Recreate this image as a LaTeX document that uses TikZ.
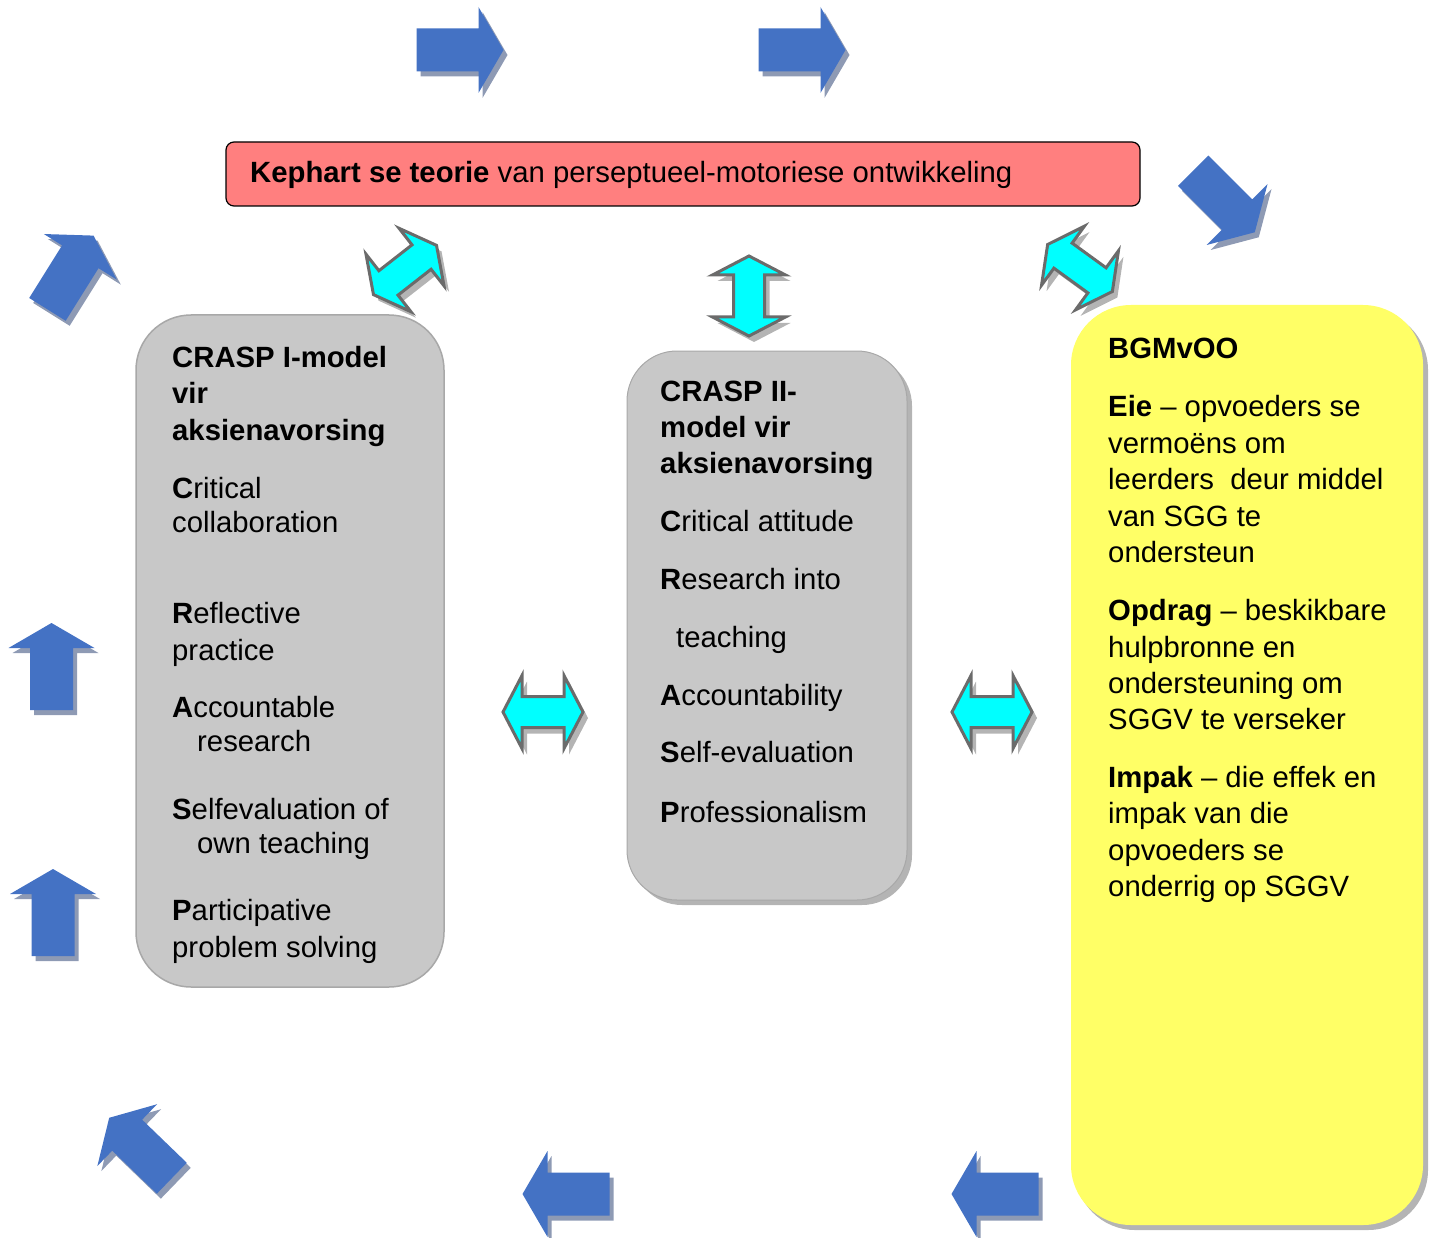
\documentclass[tikz,border=0pt]{standalone}
\usepackage{fontspec}
\setmainfont{Liberation Sans}
\definecolor{arrowblue}{HTML}{4472C4}
\definecolor{blueshade}{HTML}{8E9AB4}
\definecolor{cyanfill}{HTML}{00FFFF}
\definecolor{cyanedge}{HTML}{6B6B6B}
\definecolor{greyshade}{HTML}{B4B4B4}
\definecolor{titlered}{HTML}{FF7F7F}
\definecolor{boxgrey}{HTML}{C8C8C8}
\definecolor{boxedge}{HTML}{A8A8A8}
\definecolor{boxyellow}{HTML}{FFFF66}
\begin{document}
\begin{tikzpicture}[x=1pt,y=-1pt,
  line join=miter,
  txt/.style={anchor=base west, inner sep=0pt, font=\fontsize{29.3}{36}\selectfont},
  bluearrow/.pic={\fill[arrowblue] (-43.5,-21.5) -- (18.5,-21.5) -- (18.5,-43) -- (43.5,0) -- (18.5,43) -- (18.5,21.5) -- (-43.5,21.5) -- cycle;},
  blueshadow/.pic={\fill[blueshade] (-43.5,-21.5) -- (18.5,-21.5) -- (18.5,-43) -- (43.5,0) -- (18.5,43) -- (18.5,21.5) -- (-43.5,21.5) -- cycle;},
  cyanarrow/.pic={\filldraw[fill=cyanfill, draw=cyanedge, line width=3pt] (-40,0) -- (-21,-36.5) -- (-21,-15.5) -- (21,-15.5) -- (21,-36.5) -- (40,0) -- (21,36.5) -- (21,15.5) -- (-21,15.5) -- (-21,36.5) -- cycle;},
  cyanshadow/.pic={\fill[greyshade] (-40,0) -- (-21,-36.5) -- (-21,-15.5) -- (21,-15.5) -- (21,-36.5) -- (40,0) -- (21,36.5) -- (21,15.5) -- (-21,15.5) -- (-21,36.5) -- cycle;}
]
\useasboundingbox (0,0) rectangle (1434,1238);

% ---- blue cycle arrows: shadow first, then the arrow itself
\foreach \cx/\cy/\ang in {460/50/0, 802/50/0, 1224/201.5/-45, 70.5/272.5/58,
    51.5/666.5/90, 53/912.5/90, 140.5/1148/136, 566/1194/180, 995/1194/180}{
  \pic[rotate=\ang] at (\cx+4,\cy+5) {blueshadow};
  \pic[rotate=\ang] at (\cx,\cy) {bluearrow};
}

% ---- box shadows
\fill[rounded corners=50pt, greyshade] (632,356) rectangle (912,905);
\fill[rounded corners=60pt, greyshade] (1075,310) rectangle (1428,1230);

% ---- boxes
\node[draw=black, line width=1.2pt, fill=titlered, rounded corners=8pt,
      minimum width=914pt, minimum height=64pt, inner sep=0pt] (title) at (683,174) {};
\node[draw=boxedge, line width=1.5pt, fill=boxgrey, rounded corners=55pt,
      minimum width=308pt, minimum height=672pt, inner sep=0pt] (crasp1) at (290,651) {};
\node[draw=boxedge, line width=1pt, fill=boxgrey, rounded corners=50pt,
      minimum width=280pt, minimum height=549pt, inner sep=0pt] (crasp2) at (767,625.5) {};
\node[fill=boxyellow, rounded corners=60pt,
      minimum width=352pt, minimum height=920pt, inner sep=0pt] (bgm) at (1247,765) {};

% ---- cyan double arrows
\foreach \cx/\cy/\ang in {405/270/38, 749/296/90, 1080/268/-36, 543/712/0, 992/712/0}{
  \pic[rotate=\ang] at (\cx+5,\cy+6) {cyanshadow};
  \pic[rotate=\ang] at (\cx,\cy) {cyanarrow};
}

% ---- title text
\node[txt] (t0) at (250,183) {\textbf{Kephart se teorie} van perseptueel-motoriese ontwikkeling};

% ---- CRASP I
\node[txt] (a1) at (172,367) {\textbf{CRASP I-model}};
\node[txt] (a2) at (172,403) {\textbf{vir}};
\node[txt] (a3) at (172,440) {\textbf{aksienavorsing}};
\node[txt] (a4) at (172,498) {\textbf{C}ritical};
\node[txt] (a5) at (172,532) {collaboration};
\node[txt] (a6) at (172,623) {\textbf{R}eflective};
\node[txt] (a7) at (172,660) {practice};
\node[txt] (a8) at (172,717) {\textbf{A}ccountable};
\node[txt] (a9) at (197,751) {research};
\node[txt] (a10) at (172,819) {\textbf{S}elfevaluation of};
\node[txt] (a11) at (197,853) {own teaching};
\node[txt] (a12) at (172,920) {\textbf{P}articipative};
\node[txt] (a13) at (172,957) {problem solving};

% ---- CRASP II
\node[txt] (b1) at (660,401) {\textbf{CRASP II-}};
\node[txt] (b2) at (660,437) {\textbf{model vir}};
\node[txt] (b3) at (660,473) {\textbf{aksienavorsing}};
\node[txt] (b4) at (660,531) {\textbf{C}ritical attitude};
\node[txt] (b5) at (660,589) {\textbf{R}esearch into};
\node[txt] (b6) at (676,647) {teaching};
\node[txt] (b7) at (660,705) {\textbf{A}ccountability};
\node[txt] (b8) at (660,762) {\textbf{S}elf-evaluation};
\node[txt] (b9) at (660,822) {\textbf{P}rofessionalism};

% ---- BGMvOO
\node[txt] (c1) at (1108,359) {\textbf{BGMvOO}};
\node[txt] (c2) at (1108,416) {\textbf{Eie} \textendash\ opvoeders se};
\node[txt] (c3) at (1108,453) {vermoëns om};
\node[txt] (c4) at (1108,489) {leerders\ \ deur middel};
\node[txt] (c5) at (1108,526) {van SGG te};
\node[txt] (c6) at (1108,562) {ondersteun};
\node[txt] (c7) at (1108,620) {\textbf{Opdrag} \textendash\ beskikbare};
\node[txt] (c8) at (1108,657) {hulpbronne en};
\node[txt] (c9) at (1108,693) {ondersteuning om};
\node[txt] (c10) at (1108,729) {SGGV te verseker};
\node[txt] (c11) at (1108,787) {\textbf{Impak} \textendash\ die effek en};
\node[txt] (c12) at (1108,823) {impak van die};
\node[txt] (c13) at (1108,860) {opvoeders se};
\node[txt] (c14) at (1108,896) {onderrig op SGGV};
\end{tikzpicture}
\end{document}
